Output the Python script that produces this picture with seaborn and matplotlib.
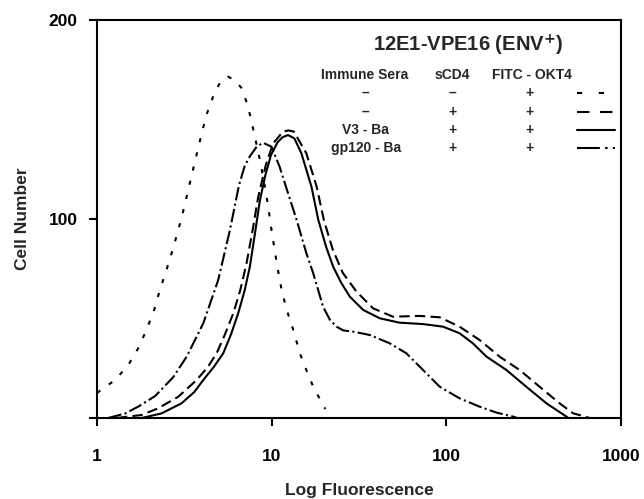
#!/usr/bin/env python3
"""
Flow cytometry histogram: 12E1-VPE16 (ENV+), FITC-OKT4 binding
"""

import matplotlib
matplotlib.use("Agg")
import matplotlib.pyplot as plt
import seaborn as sns

# --- data (Log Fluorescence, Cell Number) ---
# no sera, no sCD4 (dotted)
ctrl_x = [1.0, 1.27, 1.51, 1.72, 1.92, 2.13, 2.29, 2.5, 2.71, 3.06, 3.55, 4.0, 4.26,
          4.73, 5.15, 5.64, 6.2, 6.73, 7.3, 7.8, 8.5, 9.15, 9.55, 9.98, 10.4, 10.86,
          11.4, 12.2, 13.3, 14.5, 15.8, 17.3, 19.7, 20.3]
ctrl_y = [12.6, 19.1, 26.6, 35, 44.2, 54.6, 64.3, 74.4, 84.4, 101, 125, 144, 153,
          164, 169.5, 171.5, 169.5, 165.7, 157, 146, 131, 116.2, 106.2, 94.5, 84.4, 74.4,
          64.3, 54.3, 44.2, 32.5, 24.1, 15.7, 6.5, 4.5]

# no sera + sCD4 (dashed)
scd4_x = [1.3, 1.5, 1.8, 2.24, 2.92, 3.72, 4.3, 4.84, 5.4, 6.03, 6.6, 7.18, 7.8, 8.37,
          9.25, 10.2, 11.6, 12.5, 13.4, 15.8, 18.1, 19.9, 22.3, 25.5, 30.6, 38.1, 49.5,
          70.5, 91.7, 119, 155, 202, 263, 342, 445, 531, 661]
scd4_y = [0, 0.7, 1.5, 4.9, 10.7, 19.1, 25.5, 32.5, 42, 52.6, 64, 77.7, 95, 111,
          127, 138, 143.9, 144.5, 143.9, 133, 116.2, 99.5, 85, 73, 63.5, 55.1, 50.9,
          51.3, 50.6, 45.9, 39.2, 30.8, 24.1, 15.7, 7.4, 2.4, 0]

# V3-Ba + sCD4 (solid)
v3_x = [1.8, 2.34, 3.05, 3.6, 4.06, 4.65, 5.28, 5.85, 6.43, 7.0, 7.5, 8.0, 8.57, 9.2,
        9.9, 10.8, 11.5, 12.4, 13.5, 14.8, 16.9, 18.5, 20.5, 22.5, 25, 28, 33.4, 41.6,
        54, 73.6, 95.7, 119, 142, 170, 221, 287, 374, 487, 500]
v3_y = [0, 2.3, 7.4, 13, 19.1, 25.5, 32.5, 42, 52.6, 64, 76, 92, 109.5, 122,
        132, 138.5, 141, 142.2, 140.5, 133, 116.2, 99.5, 86, 76, 68, 61, 54.3, 50.1,
        47.9, 47.2, 45.9, 42.6, 37.5, 30.8, 24.1, 15.7, 7.4, 0.7, 0]

# gp120-Ba + sCD4 (dash-dot)
gp_x = [1.16, 1.45, 1.72, 2.15, 2.73, 3.26, 4.06, 4.94, 5.77, 6.5, 7.0, 7.5, 8.2,
        8.94, 9.98, 11.1, 12.2, 13.9, 15.8, 17.3, 19.7, 21.5, 23.5, 25.7, 29.3, 36.5,
        47.5, 59.1, 73.6, 91.7, 119, 155, 194, 241, 255]
gp_y = [0, 2.3, 5.7, 11, 20.5, 30.8, 47.6, 69.3, 94.5, 117, 126.5, 131.5, 136.3,
        138.3, 136.3, 126.3, 115, 99.5, 82.8, 72.7, 55.9, 49.5, 45.9, 44, 43.4, 41.7,
        37.5, 32.5, 24.1, 15.7, 9.9, 5.7, 2.7, 0.7, 0]

TITLE = "12E1-VPE16 (ENV$^{\\mathbf{+}}$)"
HEADERS = ["Immune Sera", "sCD4", "FITC - OKT4"]
SERA = ["\u2013", "\u2013", "V3 - Ba", "gp120 - Ba"]
SCD4 = ["\u2013", "+", "+", "+"]
FITC = ["+", "+", "+", "+"]

X_TICKS = [1, 10, 100, 1000]
Y_TICKS = [0, 100, 200]
Y_TICK_LABELS = ["", "100", "200"]


def make_plot():
    sns.set_style("ticks")
    plt.rcParams["font.family"] = ["Liberation Sans", "DejaVu Sans"]
    plt.rcParams["font.weight"] = "bold"
    plt.rcParams["mathtext.default"] = "bf"

    fig = plt.figure(figsize=(6.44, 4.99), dpi=100)
    ax = fig.add_axes([97 / 644, 1 - 418 / 499, 524 / 644, 398 / 499])

    lw = 1.5
    styles = [
        (ctrl_x, ctrl_y, (0, (2, 5))),
        (scd4_x, scd4_y, (0, (5, 2.5))),
        (v3_x, v3_y, "-"),
        (gp_x, gp_y, (0, (6.5, 1.6, 1, 1.6))),
    ]
    for xs, ys, ls in styles:
        sns.lineplot(x=xs, y=ys, ax=ax, color="black", linewidth=lw,
                     sort=False, estimator=None)
        ax.lines[-1].set_linestyle(ls)
        ax.lines[-1].set_solid_joinstyle("round")
        ax.lines[-1].set_dash_joinstyle("round")

    ax.set_xscale("log")
    ax.set_xlim(1, 1000)
    ax.set_ylim(0, 200)
    ax.set_xticks(X_TICKS)
    ax.set_xticklabels([str(t) for t in X_TICKS])
    ax.xaxis.set_minor_locator(matplotlib.ticker.NullLocator())
    ax.set_yticks(Y_TICKS)
    ax.set_yticklabels(Y_TICK_LABELS)

    for side in ["left", "bottom", "top", "right"]:
        ax.spines[side].set_visible(True)
        ax.spines[side].set_linewidth(1.5)
        ax.spines[side].set_color("black")
    ax.tick_params(axis="x", direction="out", length=6, width=1.5, pad=16,
                   labelsize=12.5, colors="black")
    ax.tick_params(axis="y", direction="out", length=6, width=1.5, pad=8,
                   labelsize=12.5, colors="black")
    for lab in ax.get_xticklabels() + ax.get_yticklabels():
        lab.set_fontweight("bold")

    ax.set_xlabel("Log Fluorescence", fontsize=12.5, fontweight="bold")
    ax.set_ylabel("Cell Number", fontsize=12.5, fontweight="bold")
    ax.xaxis.set_label_coords(0.5, -0.163)
    ax.yaxis.set_label_coords(-0.128, 0.5)

    # key table in upper right
    ax.text(0.708, 0.937, TITLE, transform=ax.transAxes, ha="center", va="center",
            fontsize=14.5, fontweight="bold")
    col_x = [0.511, 0.678, 0.830]
    for cx, h in zip(col_x, HEADERS):
        ax.text(cx, 0.862, h, transform=ax.transAxes, ha="center", va="center",
                fontsize=10, fontweight="bold")
    row_y = [0.817, 0.769, 0.724, 0.678]
    key_styles = [(0, (2.5, 8)), (0, (6, 5)), "-", (0, (11, 2.5, 1.2, 2.5, 1.2, 20))]
    for ry, a, b, c, ks in zip(row_y, SERA, SCD4, FITC, key_styles):
        ax.text(0.513, ry, a, transform=ax.transAxes, ha="center", va="center",
                fontsize=10, fontweight="bold")
        ax.text(0.678, ry, b, transform=ax.transAxes, ha="center", va="center",
                fontsize=10, fontweight="bold")
        ax.text(0.826, ry, c, transform=ax.transAxes, ha="center", va="center",
                fontsize=10, fontweight="bold")
        ax.plot([0.916, 0.989], [ry, ry], transform=ax.transAxes, color="black",
                linewidth=lw, linestyle=ks)

    fig.savefig("out.png", dpi=100)
    plt.close(fig)


if __name__ == "__main__":
    make_plot()
